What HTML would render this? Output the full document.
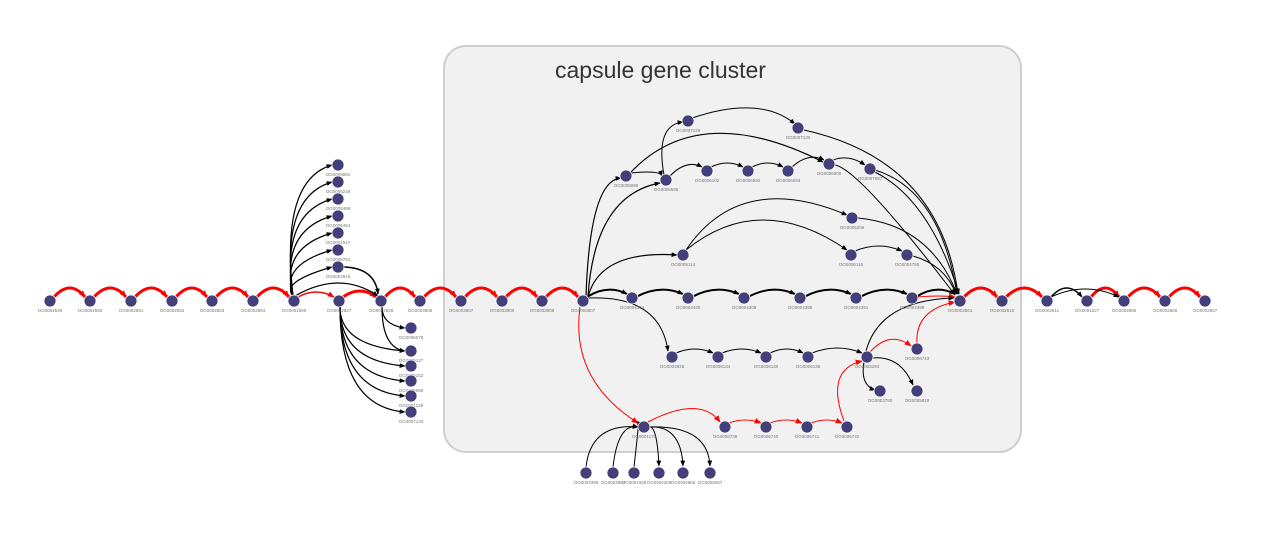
<!DOCTYPE html>
<html><head><meta charset="utf-8"><style>
html,body{margin:0;padding:0;background:#fff;}
svg{display:block}
.n{fill:#423f7a;stroke:#fff;stroke-width:0.8}
.l{font-family:"Liberation Sans",sans-serif;font-size:4.5px;fill:#777;text-anchor:middle}
</style></head><body>
<svg id="s" width="1280" height="544" viewBox="0 0 1280 544" xmlns="http://www.w3.org/2000/svg">
<defs>
<marker id="ab" viewBox="0 0 10 10" refX="9" refY="5" markerUnits="userSpaceOnUse" markerWidth="6" markerHeight="6" orient="auto"><path d="M0,1 L10,5 L0,9z" fill="#000"/></marker>
<marker id="ar" viewBox="0 0 10 10" refX="9" refY="5" markerUnits="userSpaceOnUse" markerWidth="7" markerHeight="7" orient="auto"><path d="M0,1 L10,5 L0,9z" fill="#f00"/></marker>
</defs>
<rect x="444" y="46" width="577" height="406" rx="22" fill="#f1f1f1" stroke="#cfcfcf" stroke-width="2"/>
<text x="555" y="78" font-family="'Liberation Sans',sans-serif" font-size="23" fill="#333">capsule gene cluster</text>
<g id="edges" fill="none"></g>
<g id="nodes">
<circle class="n" cx="50" cy="301" r="6"/><text class="l" x="50" y="312">OG0002549</text>
<circle class="n" cx="90" cy="301" r="6"/><text class="l" x="90" y="312">OG0002550</text>
<circle class="n" cx="131" cy="301" r="6"/><text class="l" x="131" y="312">OG0002551</text>
<circle class="n" cx="172" cy="301" r="6"/><text class="l" x="172" y="312">OG0002552</text>
<circle class="n" cx="212" cy="301" r="6"/><text class="l" x="212" y="312">OG0002553</text>
<circle class="n" cx="253" cy="301" r="6"/><text class="l" x="253" y="312">OG0002554</text>
<circle class="n" cx="294" cy="301" r="6"/><text class="l" x="294" y="312">OG0001566</text>
<circle class="n" cx="339" cy="301" r="6"/><text class="l" x="339" y="312">OG0002827</text>
<circle class="n" cx="381" cy="301" r="6"/><text class="l" x="381" y="312">OG0002828</text>
<circle class="n" cx="420" cy="301" r="6"/><text class="l" x="420" y="312">OG0003805</text>
<circle class="n" cx="461" cy="301" r="6"/><text class="l" x="461" y="312">OG0003807</text>
<circle class="n" cx="502" cy="301" r="6"/><text class="l" x="502" y="312">OG0003806</text>
<circle class="n" cx="542" cy="301" r="6"/><text class="l" x="542" y="312">OG0003808</text>
<circle class="n" cx="583" cy="301" r="6"/><text class="l" x="583" y="312">OG0003807</text>
<circle class="n" cx="632" cy="298" r="6"/><text class="l" x="632" y="309">OG0004314</text>
<circle class="n" cx="688" cy="298" r="6"/><text class="l" x="688" y="309">OG0004430</text>
<circle class="n" cx="744" cy="298" r="6"/><text class="l" x="744" y="309">OG0004308</text>
<circle class="n" cx="800" cy="298" r="6"/><text class="l" x="800" y="309">OG0004385</text>
<circle class="n" cx="856" cy="298" r="6"/><text class="l" x="856" y="309">OG0004391</text>
<circle class="n" cx="912" cy="298" r="6"/><text class="l" x="912" y="309">OG0004389</text>
<circle class="n" cx="960" cy="301" r="6"/><text class="l" x="960" y="312">OG0003661</text>
<circle class="n" cx="1002" cy="301" r="6"/><text class="l" x="1002" y="312">OG0002610</text>
<circle class="n" cx="1047" cy="301" r="6"/><text class="l" x="1047" y="312">OG0002611</text>
<circle class="n" cx="1087" cy="301" r="6"/><text class="l" x="1087" y="312">OG0001527</text>
<circle class="n" cx="1124" cy="301" r="6"/><text class="l" x="1124" y="312">OG0002865</text>
<circle class="n" cx="1165" cy="301" r="6"/><text class="l" x="1165" y="312">OG0002866</text>
<circle class="n" cx="1205" cy="301" r="6"/><text class="l" x="1205" y="312">OG0002867</text>
<circle class="n" cx="338" cy="165" r="6"/><text class="l" x="338" y="176">OG0005581</text>
<circle class="n" cx="338" cy="182" r="6"/><text class="l" x="338" y="193">OG0005249</text>
<circle class="n" cx="338" cy="199" r="6"/><text class="l" x="338" y="210">OG0005488</text>
<circle class="n" cx="338" cy="216" r="6"/><text class="l" x="338" y="227">OG0005464</text>
<circle class="n" cx="338" cy="233" r="6"/><text class="l" x="338" y="244">OG0001917</text>
<circle class="n" cx="338" cy="250" r="6"/><text class="l" x="338" y="261">OG0005751</text>
<circle class="n" cx="338" cy="267" r="6"/><text class="l" x="338" y="278">OG0004919</text>
<circle class="n" cx="411" cy="328" r="6"/><text class="l" x="411" y="339">OG0005078</text>
<circle class="n" cx="411" cy="351" r="6"/><text class="l" x="411" y="362">OG0005127</text>
<circle class="n" cx="411" cy="366" r="6"/><text class="l" x="411" y="377">OG0005152</text>
<circle class="n" cx="411" cy="381" r="6"/><text class="l" x="411" y="392">OG0005098</text>
<circle class="n" cx="411" cy="396" r="6"/><text class="l" x="411" y="407">OG0001129</text>
<circle class="n" cx="411" cy="412" r="6"/><text class="l" x="411" y="423">OG0007133</text>
<circle class="n" cx="688" cy="121" r="6"/><text class="l" x="688" y="132">OG0007129</text>
<circle class="n" cx="798" cy="128" r="6"/><text class="l" x="798" y="139">OG0007130</text>
<circle class="n" cx="626" cy="176" r="6"/><text class="l" x="626" y="187">OG0005999</text>
<circle class="n" cx="666" cy="180" r="6"/><text class="l" x="666" y="191">OG0005595</text>
<circle class="n" cx="707" cy="171" r="6"/><text class="l" x="707" y="182">OG0006102</text>
<circle class="n" cx="748" cy="171" r="6"/><text class="l" x="748" y="182">OG0006592</text>
<circle class="n" cx="788" cy="171" r="6"/><text class="l" x="788" y="182">OG0006593</text>
<circle class="n" cx="829" cy="164" r="6"/><text class="l" x="829" y="175">OG0006000</text>
<circle class="n" cx="870" cy="169" r="6"/><text class="l" x="870" y="180">OG0007087</text>
<circle class="n" cx="852" cy="218" r="6"/><text class="l" x="852" y="229">OG0005296</text>
<circle class="n" cx="683" cy="255" r="6"/><text class="l" x="683" y="266">OG0005114</text>
<circle class="n" cx="851" cy="255" r="6"/><text class="l" x="851" y="266">OG0006116</text>
<circle class="n" cx="907" cy="255" r="6"/><text class="l" x="907" y="266">OG0004750</text>
<circle class="n" cx="672" cy="357" r="6"/><text class="l" x="672" y="368">OG0003926</text>
<circle class="n" cx="718" cy="357" r="6"/><text class="l" x="718" y="368">OG0006134</text>
<circle class="n" cx="766" cy="357" r="6"/><text class="l" x="766" y="368">OG0006135</text>
<circle class="n" cx="808" cy="357" r="6"/><text class="l" x="808" y="368">OG0006136</text>
<circle class="n" cx="867" cy="357" r="6"/><text class="l" x="867" y="368">OG0003284</text>
<circle class="n" cx="917" cy="349" r="6"/><text class="l" x="917" y="360">OG0006743</text>
<circle class="n" cx="880" cy="391" r="6"/><text class="l" x="880" y="402">OG0003790</text>
<circle class="n" cx="917" cy="391" r="6"/><text class="l" x="917" y="402">OG0005818</text>
<circle class="n" cx="644" cy="427" r="6"/><text class="l" x="644" y="438">OG0001175</text>
<circle class="n" cx="725" cy="427" r="6"/><text class="l" x="725" y="438">OG0006739</text>
<circle class="n" cx="766" cy="427" r="6"/><text class="l" x="766" y="438">OG0006740</text>
<circle class="n" cx="807" cy="427" r="6"/><text class="l" x="807" y="438">OG0006741</text>
<circle class="n" cx="847" cy="427" r="6"/><text class="l" x="847" y="438">OG0006742</text>
<circle class="n" cx="586" cy="473" r="6"/><text class="l" x="586" y="484">OG0004399</text>
<circle class="n" cx="613" cy="473" r="6"/><text class="l" x="613" y="484">OG0004867</text>
<circle class="n" cx="634" cy="473" r="6"/><text class="l" x="634" y="484">OG0001068</text>
<circle class="n" cx="659" cy="473" r="6"/><text class="l" x="659" y="484">OG0004269</text>
<circle class="n" cx="683" cy="473" r="6"/><text class="l" x="683" y="484">OG0004866</text>
<circle class="n" cx="710" cy="473" r="6"/><text class="l" x="710" y="484">OG0005087</text>
</g>
</svg>
<script>
var g=document.getElementById('edges'),NS='http://www.w3.org/2000/svg';
function p(d,c,w){var e=document.createElementNS(NS,'path');e.setAttribute('d',d);e.setAttribute('stroke',c);e.setAttribute('stroke-width',w);e.setAttribute('marker-end',c=='#f00'?'url(#ar)':'url(#ab)');g.insertBefore(e,null);}
function arc(x1,y1,x2,y2,h,c,w){var mx=(x1+x2)/2,my=Math.min(y1,y2)-h;p('M'+(x1+4)+','+(y1-4)+' Q'+mx+','+my+' '+(x2-5)+','+(y2-4),c,w);}
function q(x1,y1,cx,cy,x2,y2,c,w){p('M'+x1+','+y1+' Q'+cx+','+cy+' '+x2+','+y2,c,w);}
var R='#f00',K='#000';
var row=[50,90,131,172,212,253,294];for(var i=0;i<6;i++)arc(row[i],301,row[i+1],301,22,R,3);
arc(294,301,339,301,14,R,1.5);arc(339,301,381,301,16,R,3);
var r2=[381,420,461,502,542,583];for(i=0;i<5;i++)arc(r2[i],301,r2[i+1],301,22,R,3);
var r3=[960,1002,1047,1087,1124,1165,1205];for(i=0;i<6;i++)arc(r3[i],301,r3[i+1],301,22,r3[i]==1047?K:R,r3[i]==1047?1.5:3);
arc(1047,301,1124,301,20,K,1);
[165,182,199,216,233,250,267].forEach(function(y){q(293,296,280,y+15,332,y,K,1.2);});
q(295,296,340,270,378,296,K,1.2);q(344,267,375,268,378,294,K,1.5);
[351,366,381,396,412].forEach(function(y){q(340,307,340,y-5,405,y,K,1.2);});
[328,351].forEach(function(y){q(382,307,382,y-3,405,y,K,1.2);});
var r4=[583,632,688,744,800,856,912,960];for(i=0;i<7;i++)arc(r4[i],301,r4[i+1],298,14,K,2);
q(586,296,590,180,621,178,K,1.2);q(588,296,595,195,660,183,K,1.2);
q(588,297,600,250,677,255,K,1.2);q(588,298,660,295,668,351,K,1);
q(631,172,700,100,823,162,K,1.2);q(631,173,660,170,662,176,K,1);
q(664,175,655,125,683,122,K,1);q(692,118,760,95,795,124,K,1);
arc(666,180,707,171,12,K,1);arc(707,171,748,171,12,K,1);arc(748,171,788,171,12,K,1);arc(788,171,829,164,12,K,1);arc(829,164,870,169,10,K,1);
q(835,165,860,170,955,295,K,1);q(875,170,940,190,957,294,K,1);q(804,130,940,160,958,294,K,1);q(875,172,930,200,959,294,K,1);
q(686,250,740,170,847,215,K,1);q(686,250,760,190,847,250,K,1);
q(858,218,930,225,957,294,K,1);arc(851,255,907,255,14,K,1);q(913,256,945,265,956,294,K,1);
q(918,297,940,295,955,297,R,1);
arc(672,357,718,357,12,K,1);arc(718,357,766,357,12,K,1);arc(766,357,808,357,12,K,1);arc(808,357,867,357,14,K,1);
q(866,351,880,300,954,298,K,1);q(870,352,890,330,911,346,R,1);q(917,343,915,310,955,302,R,1);
q(872,358,900,355,913,385,K,1);q(864,362,860,385,875,390,K,1);
q(580,307,570,380,638,423,R,1);
q(648,422,700,395,720,422,R,1);arc(725,427,766,427,10,R,1);arc(766,427,807,427,10,R,1);arc(807,427,847,427,10,R,1);
q(844,421,825,370,862,361,R,1);
[[586,473],[613,473],[634,473]].forEach(function(a){q(a[0],a[1]-6,a[0]+5,423,638,427,K,1);});
[[659,473],[683,473],[710,473]].forEach(function(a){q(649,427,a[0]-2,425,a[0],a[1]-7,K,1);});
</script>
</body></html>
